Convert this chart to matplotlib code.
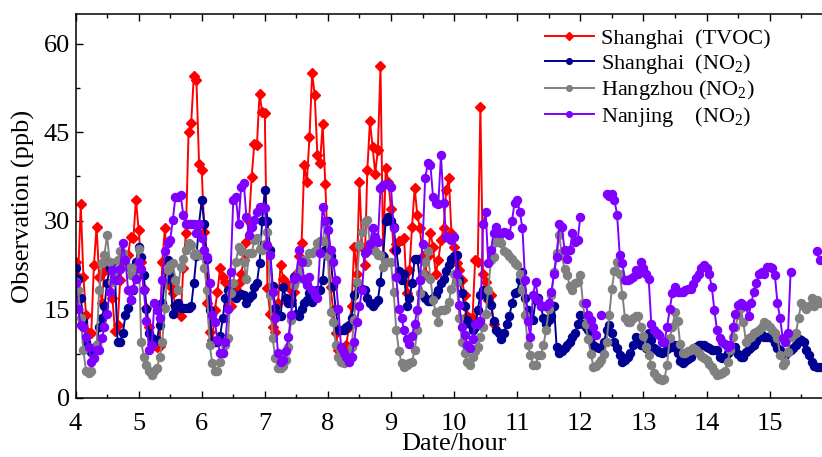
import numpy as np
import matplotlib
matplotlib.use('Agg')
import matplotlib.pyplot as plt
from matplotlib.ticker import MultipleLocator, FixedLocator

plt.rcParams['font.family'] = ['Liberation Serif', 'DejaVu Serif']
plt.rcParams['mathtext.fontset'] = 'custom'
plt.rcParams['mathtext.rm'] = 'Liberation Serif'
plt.rcParams['mathtext.default'] = 'regular'

start_day = 4  # first hourly value is day 4, hour 0
day_ticks = [4, 5, 6, 7, 8, 9, 10, 11, 12, 13, 14, 15]
y_ticks = [0, 15, 30, 45, 60]

sh_tvoc = [
    23, 20.5, 32.8, 20.5, 14, 11, 11, 22.5, 29, 20.5, 16, 21.5, 23, 22.8, 17, 11.4, 12.3, 20, 23, 24, 24.2, 27.3, 27, 33.6,
    28.5, 23, 18.5, 15.2, 12, 9.2, 9, 8.7, 8.8, 23, 28.7, 21.2, 19, 17.7, 15.7, 15, 13.8, 22, 28, 45, 46.6, 54.5, 53.8, 39.6,
    38.6, 28.1, 16, 11.2, 9.8, 14.9, 18, 22, 20.5, 19.7, 15.5, 15.5, 17.7, 18.5, 19.4, 21, 23.4, 26.4, 30, 37.4, 43, 42.8, 51.5, 48.4,
    48.3, 18.6, 14.3, 12, 11.2, 16, 22.5, 20.2, 19.5, 18.8, 16.6, 18, 21, 24, 26.2, 39.4, 36.6, 44.2, 55, 51.3, 41.1, 39.7, 46.3, 36.3,
    25, 18.8, 14.9, 11, 8.1, 7.6, 8.1, 9, 12, 15.5, 25.6, 21, 36.6, 25.6, 22.5, 38.6, 46.9, 42.5, 38, 42, 56.2, 24, 38.9, 36.6,
    32, 25, 26, 26.5, 26.7, 27, 17.7, 21.6, 29, 35.6, 31, 28.7, 24, 21, 24, 28, 25.6, 21, 23.3, 26.7, 28.7, 35.2, 37.2, 27.9,
    25.6, 22.8, 21.7, 20, 17.4, 13.8, 13.5, 13.5, 23.3, 23, 49.3, 21, 19.7, 16.6, 17.4, 12.6,
]

sh_no2 = [
    22, 20.2, 17, 13, 9.5, 8.5, 7.8, 8.4, 9, 12, 13.5, 15.5, 19.4, 22, 22.8, 21, 9.5, 9.5, 11, 14, 15.2, 16.6, 18.3, 23,
    25.6, 23.9, 20.8, 15, 11, 10.2, 9.8, 9.8, 12.4, 16, 20, 23.3, 21, 14.3, 15.5, 16, 15.2, 15.2, 15.2, 15.2, 15.5, 19.4, 24, 29.5,
    33.5, 29.5, 23.6, 14.9, 9.5, 9.5, 9.5, 10.5, 13.5, 16.9, 18.3, 18, 17.5, 17, 17.5, 17.6, 17.5, 16, 16.9, 17.5, 18.8, 19.5, 22.8, 30,
    35.2, 30, 25, 19, 15.2, 14, 13.8, 18.8, 17, 16, 16, 20.5, 14.3, 13.8, 15, 16, 16.6, 17.7, 16.3, 17.5, 18.3, 18.3, 20, 25,
    30, 24, 19, 14.9, 11.5, 11.5, 11.5, 12, 12.3, 13.5, 17.4, 19.4, 18.8, 18.5, 18.3, 16.9, 16, 15.5, 16, 16.6, 19.7, 24, 30, 30.7,
    30, 29, 25, 21.5, 20, 21, 15.5, 16.9, 19.4, 23.6, 23.6, 20, 17.5, 16.9, 16.5, 16.4, 16.9, 17.5, 18.3, 19.5, 20.2, 21.5, 22.5, 23.5,
    24, 24.2, 20, 17.7, 15.5, 13.2, 12.5, 11.5, 12, 14.9, 17.5, 18.3, 18, 17, 15.7, 13, 11.5, 11, 10, 11, 12.5, 13.8, 16, 17.7,
    18, 20, 21.4, 17, 14.9, 13.5, 13.2, 16.6, 16.9, 15.5, 13.5, 12.6, 13.2, 13.8, 15.5, 8.7, 7.6, 7.9, 8.5, 9, 9.5, 10.4, 11, 12.5,
    14, 12.5, 12, 11.5, 10.4, 9, 8.7, 8.4, 8.5, 9.5, 11.5, 12.4, 11, 9.5, 8.4, 7.3, 6.1, 6.4, 7, 7.6, 9, 10.4, 9.5, 9,
    9, 8.4, 11, 9.8, 8.5, 8.1, 7.8, 7.6, 7.8, 8.3, 8.7, 8.7, 9, 7.6, 6.2, 5.9, 6.2, 6.6, 7, 8.1, 8.6, 9, 9, 9,
    8.7, 8.5, 8.2, 8.1, 8.1, 7, 6.7, 6.9, 7.6, 7.9, 8.3, 8.7, 7.5, 7, 7, 7.8, 8.3, 8.7, 9, 9.6, 10.4, 10.7, 10.4, 10.4,
    10.4, 10.2, 9.3, 8.4, 8.1, 7.7, 7.3, 7.8, 8.1, 8.5, 9, 10, 9.8, 9.4, 8.2, 7.3, 6.1, 5.5, 5.3, 5.3,
]

hz_no2 = [
    19.7, 18.3, 13.5, 8.1, 4.5, 4.2, 4.5, 6.7, 9, 18.3, 22.8, 24.2, 27.6, 23, 19.7, 21.5, 23.3, 24.8, 24.5, 23.5, 22.2, 20.8, 20.8, 22.2,
    25.3, 9.5, 7, 5.6, 4.5, 3.9, 4.5, 5, 7, 9.5, 15.2, 21.7, 22.5, 22.8, 20, 18.3, 22.2, 23.5, 25, 26.2, 25.9, 24.2, 24.5, 24.2,
    24.2, 22, 18.3, 9, 6, 4.5, 4.5, 6.1, 7.6, 9, 10.1, 17.7, 19.4, 23, 25.6, 24.8, 23, 20.2, 24.5, 24.5, 26.7, 27, 25.3, 25,
    26, 28.1, 17.4, 10.1, 6.7, 5, 5, 5.5, 6.5, 8.7, 13.2, 19.1, 20, 21.5, 23, 23.3, 23, 24.5, 24.6, 24.8, 26.2, 26.5, 26.5, 29.5,
    24, 14.6, 12.9, 9, 7, 6.1, 5.9, 6.7, 7.5, 8.7, 13.2, 19.7, 25.9, 28.1, 29.8, 30.1, 26.2, 25.3, 24.8, 24.2, 24.2, 22.2, 23, 23,
    23, 18, 11.5, 8, 5.9, 5.3, 5.6, 6, 6.1, 8.1, 11.5, 17.7, 21, 23, 24.8, 20.2, 16.6, 14.5, 12.9, 14.9, 14.9, 15, 16.3, 18.5,
    21, 19.7, 13.5, 9.5, 7.6, 6.1, 5.6, 7, 8, 8.7, 10.4, 12, 14.3, 18.3, 23.3, 23.9, 26.4, 27.3, 26.2, 24.8, 24.5, 24, 23.6, 22.8,
    22.5, 21, 18.3, 14, 9, 7.3, 5.6, 5.6, 7.3, 7.3, 9, 11.5, 15, 17.4, 21.4, 24.5, 27.6, 24.2, 21.9, 20.8, 19, 18.3, 19.5, 19.7,
    20.8, 16, 12.5, 10, 7.5, 5.3, 5.5, 5.9, 6.4, 7.5, 9.5, 14, 18.5, 21.5, 23, 21, 17.5, 13.5, 12.9, 12.9, 13.5, 13.8, 13.8, 12,
    10.5, 8.7, 7.3, 5.6, 4.2, 3.6, 3.3, 3, 3.2, 5.6, 10.1, 12, 14.5, 13, 9.2, 7.6, 7.6, 8, 8.1, 8.5, 8.1, 7.6, 7.1, 6.7,
    6.4, 5.8, 5.3, 4.5, 3.9, 4, 4.2, 4.5, 6.1, 8.1, 10.4, 12, 14, 15.2, 12.9, 9.5, 10.1, 10.4, 11, 11.2, 11.5, 12, 12.9, 12.6,
    12, 11.5, 11, 10.1, 7.3, 5.6, 6.1, 7.8, 10.4, 10.6, 11, 13.5, 16, 15.5, 15, 15.5, 16.9, 15.5, 16.6, 16,
]

nan = float('nan')
nj_no2 = [
    19.5, 15, 12.4, 12, 10.4, 8.7, 6.1, 6.7, 8.1, 8.1, 10.1, 12, 14.3, 18, 21.7, 20, 20, 21.9, 26.2, 23.3, 18.3, 16.6, 18.5, 20.2,
    23, 21.9, 18.3, 13, 8.1, 9, 16, 14.9, 13.5, 20, 24.8, 26.2, 26.7, 30.1, 34, 34, 34.3, 31, 29.5, 29.5, 29.5, 29.5, 28, 29.5,
    27, 25, 23.9, 19.4, 14, 12.9, 9.8, 7.6, 7.6, 9.5, 15, 21.4, 33.5, 34, 29.5, 35.8, 36.4, 30.7, 27.6, 29, 30.1, 31.5, 32.4, 32.4,
    32.1, 25.9, 24.2, 18, 13.5, 7.6, 6.1, 6.5, 8, 10.4, 14, 20.2, 20.5, 25, 23, 20.2, 19.1, 20.5, 18.3, 17.5, 16.9, 24.5, 32.4, 30,
    28.4, 25, 23, 20, 15, 8.7, 7.6, 7, 6.1, 7, 9.5, 12.9, 15.5, 18.3, 24.5, 24.8, 26, 28.7, 27.3, 26.4, 35.5, 36, 36.3, 36.2,
    35.8, 28.7, 20.5, 15, 13.5, 11.5, 10, 9.2, 10.5, 12.6, 14.9, 20, 26, 37.2, 39.7, 39.4, 34, 33, 32.9, 41.1, 33, 27.3, 27, 26.7,
    27.3, 21, 15.7, 12, 10.7, 9, 8.4, 10, 12.6, 12.6, 13, 29.5, 31.5, 22.8, 25, 27.9, 29, 28, 27.9, 28.1, 28, 27.6, 30, 33,
    33.5, 31.5, 28.7, 20, 13, 10.4, 17.4, 19.7, 16.6, 15.5, 15.5, 15.5, 16, 18, 21, 23.9, 29.5, 29, 25, 23.6, 25, 27.9, 26.4, 26.7,
    30.7, nan, 16, 14, 13.2, 12, 10.7, nan, 14, nan, 34.5, 34.2, 34.5, 33.5, 31, 24.2, 22.8, 20, 20, 20.2, 20.5, 21.7, 21, 23,
    22, 21, 20.2, 12.6, 11.5, 11, 10.7, 9.5, 9.5, 12, 15, 17.7, 18.8, 18, 18, 18, 18.3, 18.5, 18.5, 19.3, 20.3, 21, 22, 22.5,
    22, 21, 18.8, 14.9, 11.5, 10.1, 9.5, 9.2, 8.7, 9, 12, 14.3, 15.7, 16, 15.7, 15.5, 13.8, 16, 18, 19.4, 21, 21.4, 21, 22.2,
    22.2, 22, 20.8, 16, 13.5, 10.1, 9.5, 11, 21.4, nan, nan, nan, nan, nan, nan, nan, nan, nan, 24.8, 23.3,
]

series = [
    ('Shanghai  (TVOC)', sh_tvoc, '#FF0000', 'D', 5.4),
    ('Shanghai  (NO$_2$)', sh_no2, '#000092', 'o', 5.8),
    ('Hangzhou (NO$_2$)', hz_no2, '#808080', 'o', 5.8),
    ('Nanjing    (NO$_2$)', nj_no2, '#8000FF', 'o', 5.8),
]

W, H = 822, 457
fig = plt.figure(figsize=(W / 100, H / 100), dpi=100)
ax = fig.add_axes([75.5 / W, 59 / H, 12 * 63.1 / W, 384 / H])

for label, vals, col, mk, ms in series:
    v = np.array(vals, dtype=float)
    t = start_day + np.arange(len(v)) / 24.0
    ax.plot(t, v, color=col, marker=mk, ms=ms, lw=1.4, mec=col, mfc=col, label=label)

ax.set_xlim(4, 16)
ax.set_ylim(0, 65)
ax.xaxis.set_major_locator(FixedLocator(day_ticks))
ax.xaxis.set_minor_locator(MultipleLocator(0.5))
ax.yaxis.set_major_locator(FixedLocator(y_ticks))
ax.yaxis.set_minor_locator(MultipleLocator(7.5))
ax.tick_params(which='both', direction='in', top=True, right=False, width=1.0)
ax.tick_params(which='major', length=5, labelsize=19, pad=4)
ax.tick_params(which='minor', length=3)
ax.tick_params(axis='x', which='major', pad=10.5)
for s in ax.spines.values():
    s.set_linewidth(1.1)

ax.set_xlabel('Date/hour', fontsize=19, labelpad=-1.5)
ax.set_ylabel('Observation (ppb)', fontsize=19, labelpad=6)

ax.legend(loc='upper left', bbox_to_anchor=(0.62, 0.962), frameon=False, fontsize=16,
          handlelength=2.2, handletextpad=0.3, labelspacing=0.12, borderpad=0,
          borderaxespad=0, markerscale=0.7)

fig.savefig('out.png', dpi=100)
